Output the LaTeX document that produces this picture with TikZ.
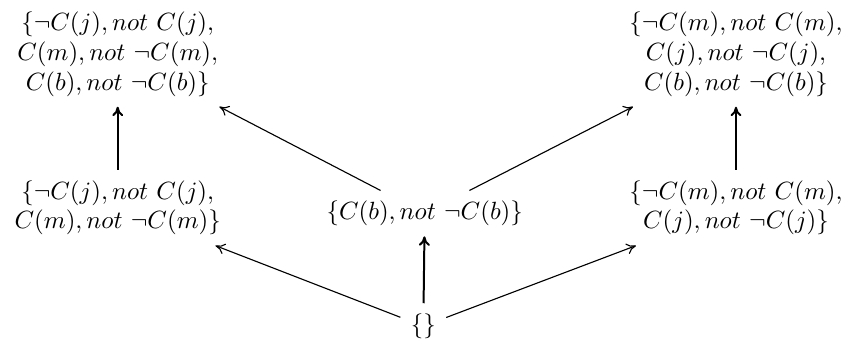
\documentclass[tikz,border=0pt]{standalone}
\usepackage{tikz}
\usetikzlibrary{arrows.meta, positioning}

\begin{document}
\begin{tikzpicture}[
  set/.style={align=center, inner sep=4pt},
  arr/.style={-{To[length=3.8pt, width=4.4pt]}, line width=0.45pt},
  up/.style={-{To[length=3.8pt, width=4.4pt]}, thick}
]
\useasboundingbox (0,0) rectangle (11.96,4.98);
\node[set] (jmb) at (1.66,4.22) {$\{\neg C(j), not\ C(j),$\\$C(m), not\ \neg C(m),$\\$C(b), not\ \neg C(b)\}$};
\node[set] (mjb) at (10.38,4.22) {$\{\neg C(m), not\ C(m),$\\$C(j), not\ \neg C(j),$\\$C(b), not\ \neg C(b)\}$};
\node[set] (jm) at (1.66,2.05) {$\{\neg C(j), not\ C(j),$\\$C(m), not\ \neg C(m)\}$};
\node[set] (b) at (5.99,1.97) {$\{C(b), not\ \neg C(b)\}$};
\node[set] (mj) at (10.38,2.05) {$\{\neg C(m), not\ C(m),$\\$C(j), not\ \neg C(j)\}$};
\node[set] (empty) at (5.97,0.38) {$\{\}$};
\draw[up] (jm) -- (jmb);
\draw[up] (mj) -- (mjb);
\draw[arr] (b) -- (jmb);
\draw[arr] (b) -- (mjb);
\draw[arr] (empty) -- (jm);
\draw[up] (empty) -- (b);
\draw[arr] (empty) -- (mj);
\end{tikzpicture}
\end{document}
